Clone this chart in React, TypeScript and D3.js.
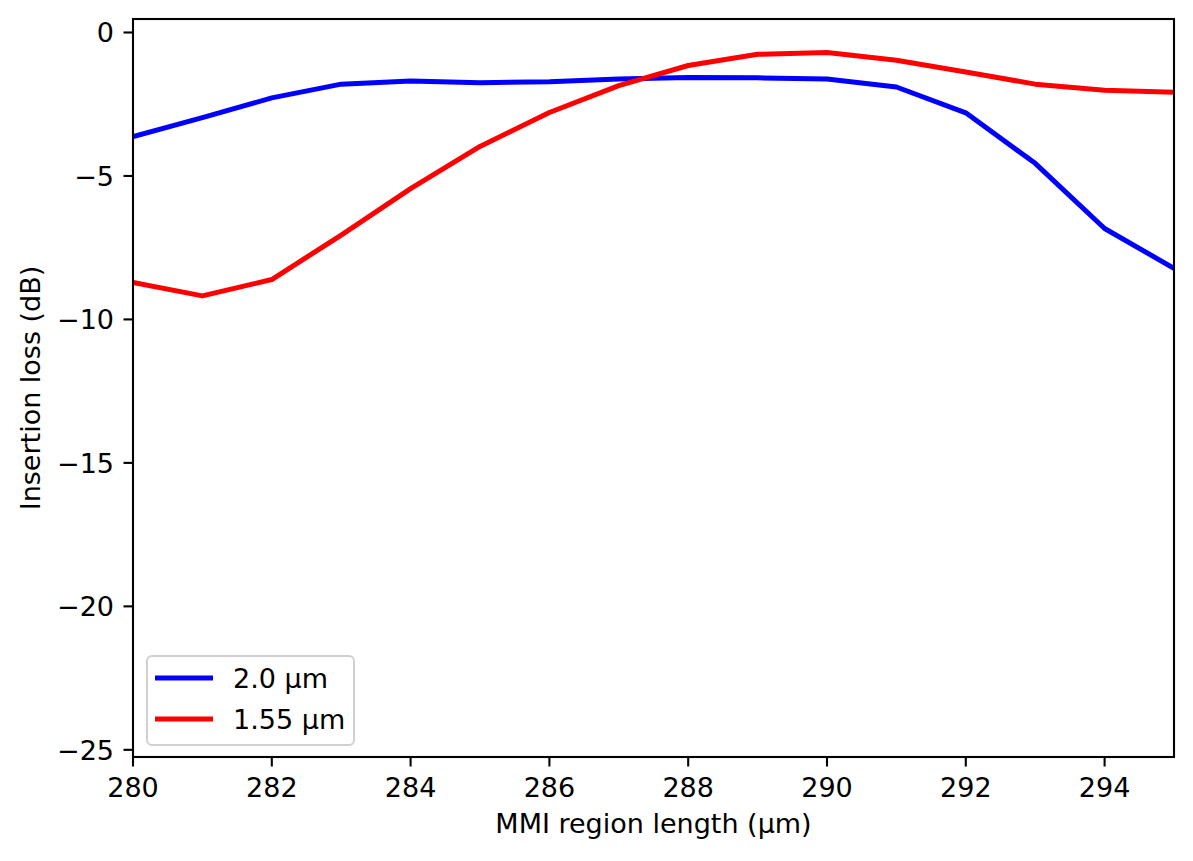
import * as d3 from 'd3'

const lengths = [280, 281, 282, 283, 284, 285, 286, 287, 288, 289, 290, 291, 292, 293, 294, 295]
const loss2um = [-3.63, -2.97, -2.28, -1.8, -1.69, -1.75, -1.72, -1.62, -1.57, -1.58, -1.62, -1.9, -2.8, -4.56, -6.83, -8.22]
const loss155um = [-8.71, -9.18, -8.61, -7.06, -5.44, -3.97, -2.79, -1.85, -1.15, -0.76, -0.7, -0.97, -1.38, -1.8, -2.01, -2.08]
const xTicks = [280, 282, 284, 286, 288, 290, 292, 294]
const yTicks = [0, -5, -10, -15, -20, -25]

const W = 1193
const H = 861
const m = { left: 133, right: 1174, top: 19, bottom: 757 }
const font = 'DejaVu Sans, sans-serif'
const fs = 27

const series = [
  { label: '2.0 µm', color: '#0000ff', values: loss2um },
  { label: '1.55 µm', color: '#ff0000', values: loss155um },
]

export default function App() {
  const x = d3.scaleLinear().domain([280, 295]).range([m.left, m.right])
  const y = d3.scaleLinear().domain([-25.25, 0.47]).range([m.bottom, m.top])
  const fmt = (v: number) => String(v).replace('-', '\u2212')

  const mkLine = (vals: number[]) =>
    d3.line<number>()
      .x((_, i) => x(lengths[i]))
      .y((d) => y(d))(vals) ?? ''

  return (
    <svg width={W} height={H} style={{ position: 'absolute', left: 0, top: 0, background: '#fff' }} fontFamily={font}>
      <defs>
        <clipPath id="plot">
          <rect x={m.left} y={m.top} width={m.right - m.left} height={m.bottom - m.top} />
        </clipPath>
      </defs>
      <g clipPath="url(#plot)">
        {series.map((s) => (
          <path key={s.label} d={mkLine(s.values)} fill="none" stroke={s.color} strokeWidth={5} strokeLinejoin="round" strokeLinecap="square" />
        ))}
      </g>
      <rect x={m.left} y={m.top} width={m.right - m.left} height={m.bottom - m.top} fill="none" stroke="#000" strokeWidth={2.1} />

      {xTicks.map((t) => (
        <g key={t} transform={`translate(${x(t)},${m.bottom})`}>
          <line y2={9.5} stroke="#000" strokeWidth={2.1} />
          <text y={40} textAnchor="middle" fontSize={fs}>{t}</text>
        </g>
      ))}
      {yTicks.map((t) => (
        <g key={t} transform={`translate(${m.left},${y(t)})`}>
          <line x2={-9.5} stroke="#000" strokeWidth={2.1} />
          <text x={-19} dy="0.36em" textAnchor="end" fontSize={fs}>{fmt(t)}</text>
        </g>
      ))}

      <text x={(m.left + m.right) / 2} y={833} textAnchor="middle" fontSize={fs}>MMI region length (µm)</text>
      <text transform={`translate(40,${(m.top + m.bottom) / 2}) rotate(-90)`} textAnchor="middle" fontSize={fs}>Insertion loss (dB)</text>

      <g>
        <rect x={147} y={656} width={207} height={89} rx={5} fill="#fff" fillOpacity={0.8} stroke="#d0d0d0" strokeWidth={2} />
        {series.map((s, i) => (
          <g key={s.label} transform={`translate(155,${678 + i * 41})`}>
            <line x2={58} stroke={s.color} strokeWidth={5} />
            <text x={78} dy="0.36em" fontSize={fs}>{s.label}</text>
          </g>
        ))}
      </g>
    </svg>
  )
}
